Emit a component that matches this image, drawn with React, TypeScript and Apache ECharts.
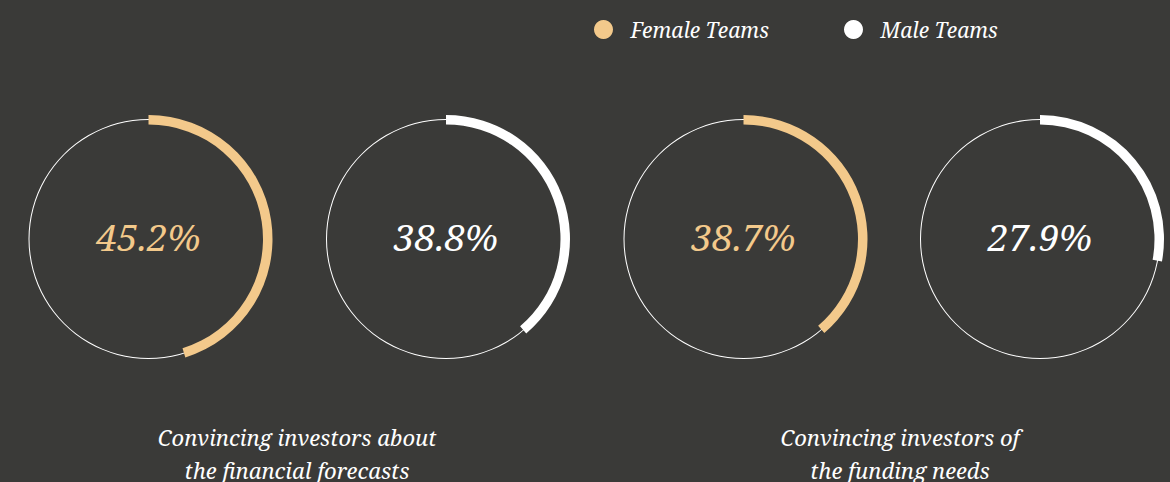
import React, { useEffect, useRef } from "react";
import * as echarts from "echarts";

const groups = ["Convincing investors about\nthe financial forecasts", "Convincing investors of\nthe funding needs"];
const teams = ["Female Teams", "Male Teams"];
const femaleValues = [45.2, 38.7];
const maleValues = [38.8, 27.9];

const BG = "#3a3a38";
const FEMALE = "#f3c98b";
const MALE = "#ffffff";
const FONT = "'Noto Serif', 'DejaVu Serif', serif";

export default function App() {
  const ref = useRef<HTMLDivElement>(null);
  useEffect(() => {
    document.body.style.margin = "0";
    document.body.style.background = BG;
    const chart = echarts.init(ref.current!, null, { renderer: "svg" });
    const centersX = [148.5, 446, 743.5, 1040];
    const cy = 239;
    const rings: { name: string; value: number; color: string }[] = [];
    groups.forEach((_, i) => {
      rings.push({ name: teams[0], value: femaleValues[i], color: FEMALE });
      rings.push({ name: teams[1], value: maleValues[i], color: MALE });
    });
    const series: any[] = [];
    rings.forEach((r, i) => {
      series.push({
        type: "pie",
        silent: true,
        center: [centersX[i], cy],
        radius: [119, 120],
        z: 1,
        label: { show: false },
        labelLine: { show: false },
        emphasis: { disabled: true },
        data: [{ name: "ring", value: 100, itemStyle: { color: "#ffffff" } }],
      });
      series.push({
        type: "pie",
        silent: true,
        center: [centersX[i], cy],
        radius: [114.5, 124],
        startAngle: 90,
        clockwise: true,
        z: 2,
        labelLine: { show: false },
        emphasis: { disabled: true },
        data: [
          {
            name: r.name,
            value: r.value,
            itemStyle: { color: r.color },
            label: {
              show: true,
              position: "center",
              formatter: (p: any) => "{v|" + p.value.toFixed(1) + "%}",
              rich: {
                v: {
                  color: r.color,
                  fontSize: 37,
                  fontStyle: "italic",
                  fontFamily: FONT,
                  lineHeight: 37,
                  padding: [0, 0, 6, 0],
                },
              },
            },
          },
          {
            name: "rest",
            value: +(100 - r.value).toFixed(1),
            itemStyle: { color: "transparent" },
            label: { show: false },
          },
        ],
      });
    });
    const legendCommon = {
      top: 19,
      padding: 0,
      icon: "circle",
      itemWidth: 44,
      itemHeight: 19,
      selectedMode: false,
      textStyle: { color: "#ffffff", fontSize: 21, fontStyle: "italic", fontFamily: FONT },
    };
    chart.setOption({
      animation: false,
      backgroundColor: BG,
      color: [FEMALE, MALE],
      legend: [
        { ...legendCommon, left: 594, data: [{ name: teams[0], itemStyle: { color: FEMALE } }] },
        { ...legendCommon, left: 844, data: [{ name: teams[1], itemStyle: { color: MALE } }] },
      ],
      graphic: groups.map((g, i) => ({
        type: "text",
        x: i === 0 ? 297 : 900,
        y: 453,
        style: {
          text: g,
          align: "center",
          verticalAlign: "middle",
          lineHeight: 33,
          fill: "#ffffff",
          fontSize: 22,
          fontStyle: "italic",
          fontFamily: FONT,
        },
      })),
      series,
    });
    return () => chart.dispose();
  }, []);
  return <div ref={ref} style={{ width: 1170, height: 482 }} />;
}
